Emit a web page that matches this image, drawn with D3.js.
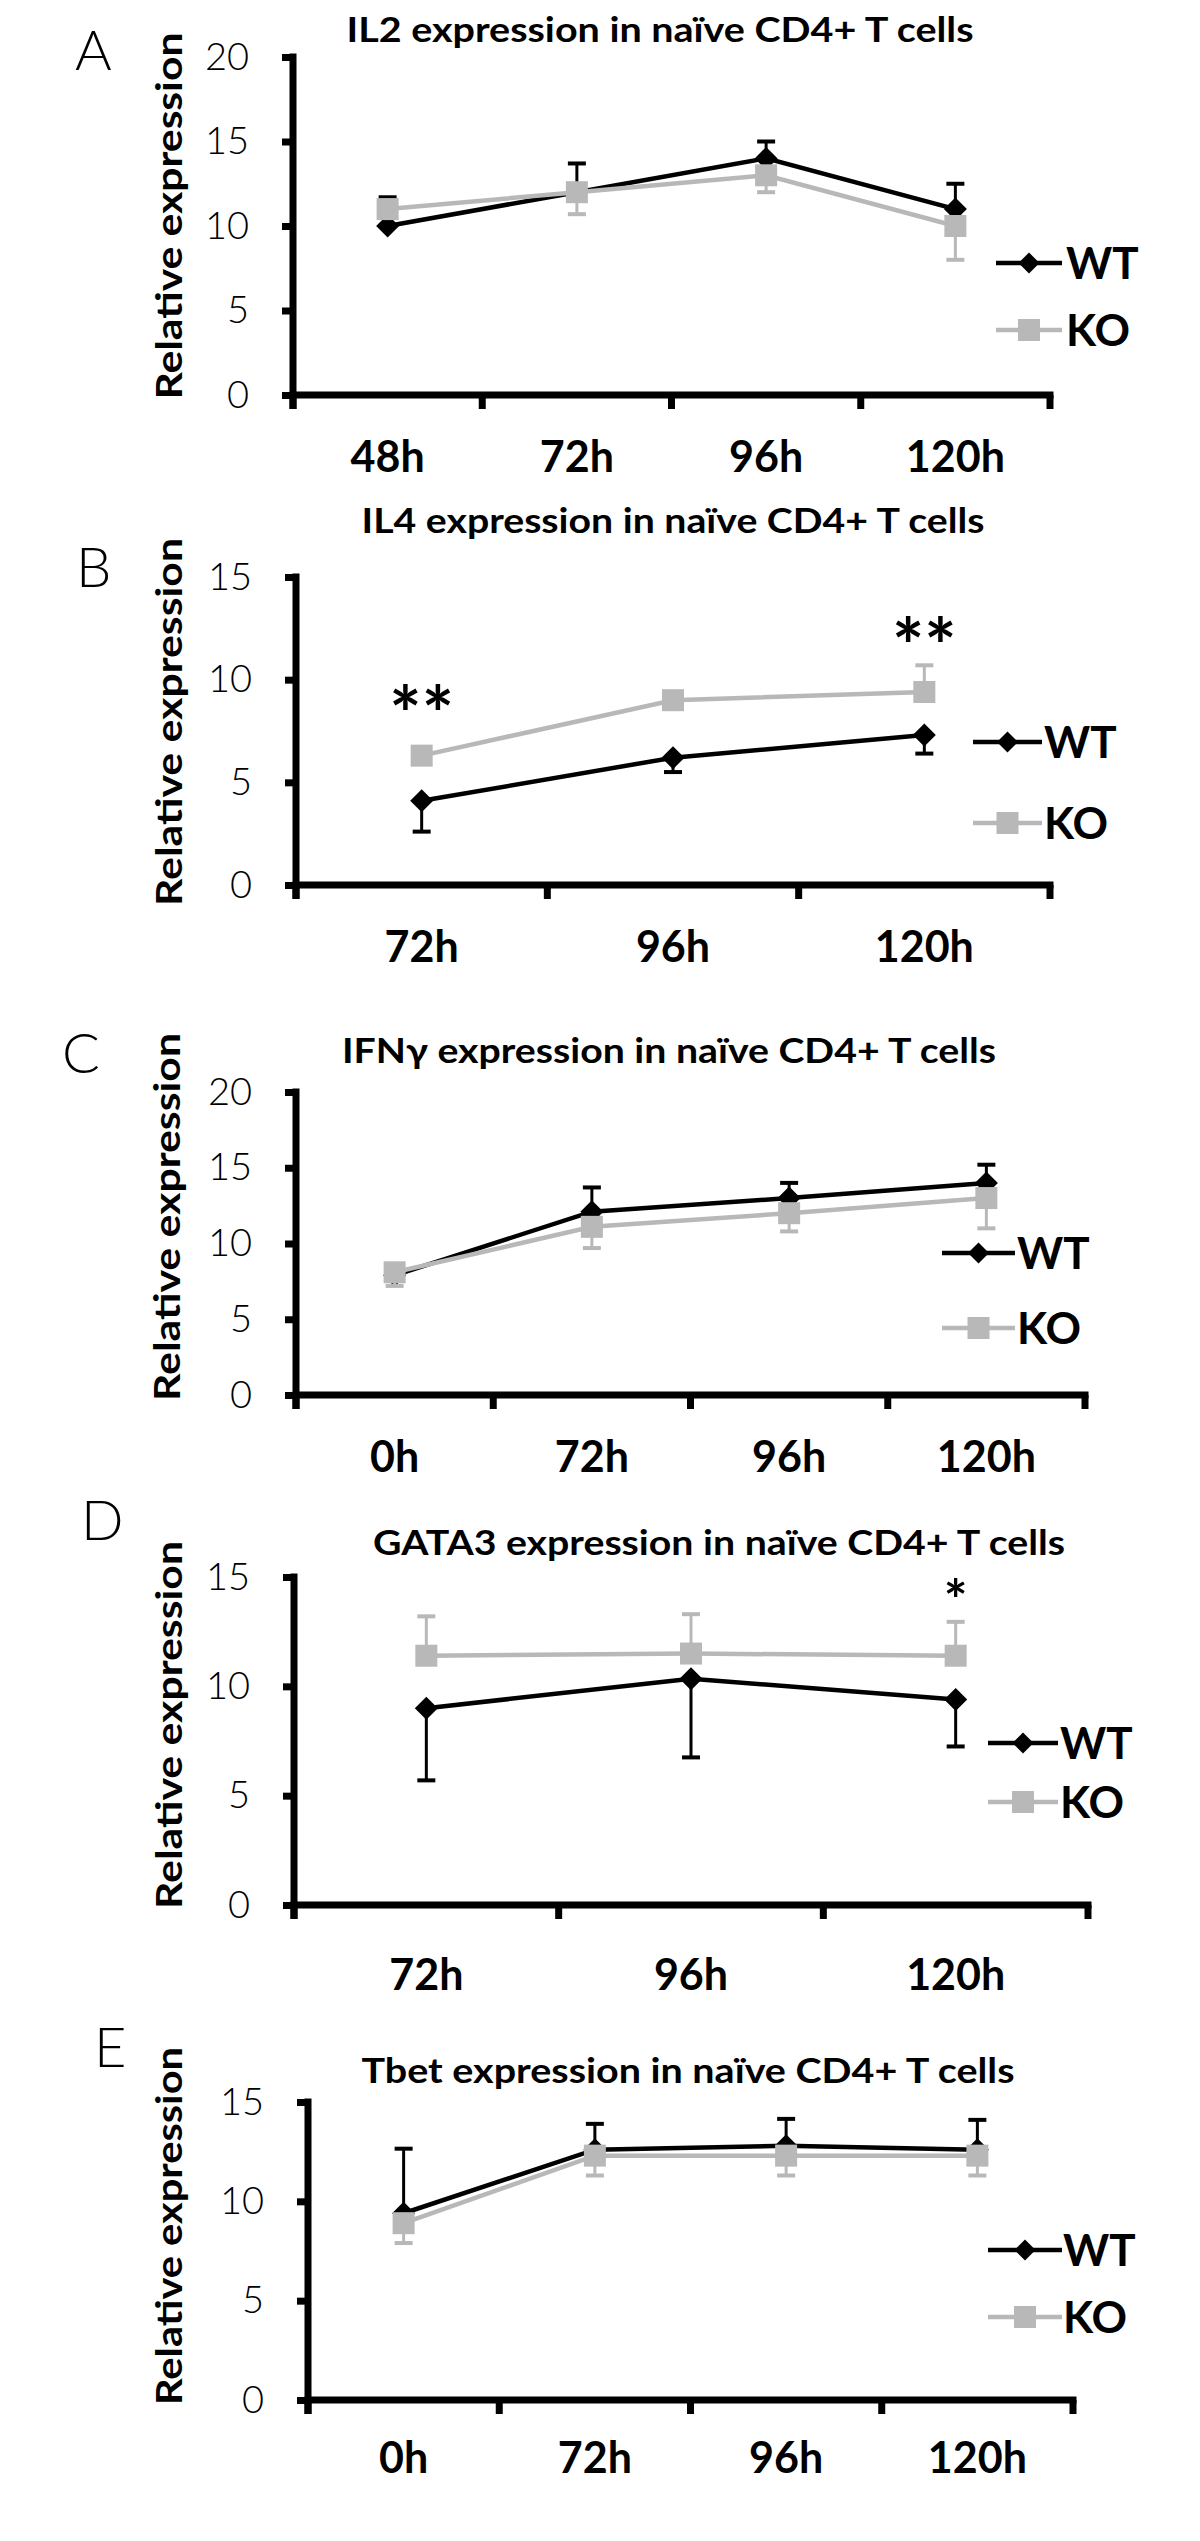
<!DOCTYPE html>
<html><head><meta charset="utf-8">
<script src="https://cdn.jsdelivr.net/npm/d3@7"></script>
<style>body{margin:0;background:#fff}svg{display:block}</style>
</head><body><div id="chart"></div>
<script>
// ---------------- DATA ----------------
const seriesNames = ["WT", "KO"];

const catsA = ["48h", "72h", "96h", "120h"];
const wtA = [10, 12, 14, 11];
const koA = [11, 12, 13, 10];
const wtErrA = [1.7, 1.7, 1.0, 1.5];
const koErrA = [0.5, 1.3, 1.0, 2.0];
const ticksA = [0, 5, 10, 15, 20];

const catsB = ["72h", "96h", "120h"];
const wtB = [4.1, 6.2, 7.3];
const koB = [6.3, 9.0, 9.4];
const wtErrB = [1.5, 0.7, 0.9];
const koErrB = [0.4, 0.4, 1.3];
const ticksB = [0, 5, 10, 15];
const sigB = ["**", "", "**"];

const catsC = ["0h", "72h", "96h", "120h"];
const wtC = [7.9, 12.1, 13.0, 14.0];
const koC = [8.1, 11.1, 12.0, 13.0];
const wtErrC = [0.3, 1.6, 1.0, 1.2];
const koErrC = [0.9, 1.4, 1.2, 2.0];
const ticksC = [0, 5, 10, 15, 20];

const catsD = ["72h", "96h", "120h"];
const wtD = [9.0, 10.35, 9.4];
const koD = [11.4, 11.5, 11.4];
const wtErrD = [3.3, 3.6, 2.15];
const koErrD = [1.8, 1.8, 1.55];
const ticksD = [0, 5, 10, 15];
const sigD = ["", "", "*"];

const catsE = ["0h", "72h", "96h", "120h"];
const wtE = [9.4, 12.6, 12.8, 12.6];
const koE = [8.9, 12.3, 12.3, 12.3];
const wtErrE = [3.25, 1.3, 1.35, 1.5];
const koErrE = [1.0, 1.0, 1.0, 1.0];
const ticksE = [0, 5, 10, 15];

const titles = [
  "IL2 expression in naïve CD4+ T cells",
  "IL4 expression in naïve CD4+ T cells",
  "IFNγ expression in naïve CD4+ T cells",
  "GATA3 expression in naïve CD4+ T cells",
  "Tbet expression in naïve CD4+ T cells"
];
const letters = ["A", "B", "C", "D", "E"];
const yLabel = "Relative expression";

// ---------------- LAYOUT ----------------
const layout = [
  {x0:293, x1:1050, y0:395, y1:57, title:{cx:660,y:42,len:627}, letter:{x:75,y:70}, ylab:{x:182,cy:216,len:367}, xlabY:472, sig:{pos:[], size:76}, leg:{x0:996,x1:1062,wt:263,ko:330,tx:1066}, wtDir:1, koDir:-1},
  {x0:296, x1:1050, y0:885, y1:577, title:{cx:673,y:533,len:623}, letter:{x:76,y:587}, ylab:{x:182,cy:722,len:368}, xlabY:962, sig:{pos:[9.1,0,12.4], size:76}, leg:{x0:973,x1:1042,wt:742,ko:823,tx:1044}, wtDir:-1, koDir:1},
  {x0:296, x1:1085, y0:1395, y1:1092, title:{cx:669,y:1063,len:654}, letter:{x:62,y:1073}, ylab:{x:180,cy:1217,len:368}, xlabY:1472, sig:{pos:[], size:76}, leg:{x0:942,x1:1015,wt:1253,ko:1328,tx:1017}, wtDir:1, koDir:-1},
  {x0:294, x1:1088, y0:1905, y1:1577, title:{cx:719,y:1555,len:692}, letter:{x:81,y:1540}, ylab:{x:182,cy:1725,len:368}, xlabY:1990, sig:{pos:[0,0,14.5], size:56}, leg:{x0:988,x1:1058,wt:1743,ko:1802,tx:1060}, wtDir:-1, koDir:1},
  {x0:308, x1:1073, y0:2400, y1:2102, title:{cx:688,y:2083,len:653}, letter:{x:94,y:2067}, ylab:{x:182,cy:2226,len:358}, xlabY:2473, sig:{pos:[], size:76}, leg:{x0:988,x1:1062,wt:2250,ko:2317,tx:1063}, wtDir:1, koDir:-1}
];

const panels = [
  {cats:catsA, wt:wtA, ko:koA, wtErr:wtErrA, koErr:koErrA, ticks:ticksA, sig:null},
  {cats:catsB, wt:wtB, ko:koB, wtErr:wtErrB, koErr:koErrB, ticks:ticksB, sig:sigB},
  {cats:catsC, wt:wtC, ko:koC, wtErr:wtErrC, koErr:koErrC, ticks:ticksC, sig:null},
  {cats:catsD, wt:wtD, ko:koD, wtErr:wtErrD, koErr:koErrD, ticks:ticksD, sig:sigD},
  {cats:catsE, wt:wtE, ko:koE, wtErr:wtErrE, koErr:koErrE, ticks:ticksE, sig:null}
];

const BLACK = "#000000", GRAY = "#b8b8b8";
const BOLD = "Lato, 'Open Sans', 'DejaVu Sans', sans-serif";

const svg = d3.select("#chart").append("svg").attr("width",1200).attr("height",2541)
  .style("background","#fff");

const diamond = r => `M0,${-r}L${r},0L0,${r}L${-r},0Z`;

panels.forEach((p, i) => {
  const L = layout[i];
  const g = svg.append("g");
  const yMax = p.ticks[p.ticks.length-1];
  const y = d3.scaleLinear().domain([0, yMax]).range([L.y0, L.y1]);
  const x = d3.scaleBand().domain(p.cats).range([L.x0, L.x1]);
  const cx = c => x(c) + x.bandwidth()/2;

  // title
  g.append("text").attr("x", L.title.cx).attr("y", L.title.y).attr("text-anchor","middle")
    .attr("font-family", BOLD).attr("font-weight", 700).attr("font-size", 35)
    .attr("textLength", L.title.len).attr("lengthAdjust","spacingAndGlyphs")
    .text(titles[i]);
  // letter
  g.append("text").attr("x", L.letter.x).attr("y", L.letter.y)
    .attr("font-family", BOLD).attr("font-weight", 300).attr("font-size", 56)
    .text(letters[i]);
  // y label
  g.append("text").attr("transform", `translate(${L.ylab.x},${L.ylab.cy}) rotate(-90)`)
    .attr("text-anchor","middle").attr("font-family", BOLD).attr("font-weight",700)
    .attr("font-size", 37).attr("textLength", L.ylab.len).attr("lengthAdjust","spacingAndGlyphs")
    .text(yLabel);

  // y axis (ticks + labels via d3.axisLeft)
  const ya = g.append("g").attr("transform", `translate(${L.x0},0)`)
    .call(d3.axisLeft(y).tickValues(p.ticks).tickSize(11).tickSizeOuter(0).tickPadding(33));
  ya.select(".domain").remove();
  ya.selectAll(".tick line").attr("stroke", BLACK).attr("stroke-width", 7);
  ya.selectAll(".tick text").attr("font-family", BOLD).attr("font-weight", 300)
    .attr("font-size", 38).attr("fill", BLACK);

  // axis lines
  g.append("line").attr("x1", L.x0).attr("x2", L.x0).attr("y1", L.y1 - 3.5).attr("y2", L.y0 + 14)
    .attr("stroke", BLACK).attr("stroke-width", 7);
  g.append("line").attr("x1", L.x0 - 3.5).attr("x2", L.x1 + 3.5).attr("y1", L.y0).attr("y2", L.y0)
    .attr("stroke", BLACK).attr("stroke-width", 7);
  // x ticks at band edges
  const edges = p.cats.map(c => x(c)).concat([L.x1]);
  g.selectAll(".xt").data(edges).enter().append("line")
    .attr("x1", d => d).attr("x2", d => d).attr("y1", L.y0).attr("y2", L.y0 + 14)
    .attr("stroke", BLACK).attr("stroke-width", 7);
  // x labels
  g.selectAll(".xl").data(p.cats).enter().append("text")
    .attr("x", d => cx(d)).attr("y", L.xlabY).attr("text-anchor","middle")
    .attr("font-family", BOLD).attr("font-weight", 700).attr("font-size", 43)
    .text(d => d);

  const line = d3.line().x((d, j) => cx(p.cats[j])).y(d => y(d));

  function drawSeries(vals, errs, dir, color, marker) {
    vals.forEach((v, j) => {
      const xe = cx(p.cats[j]);
      const ye = y(v + dir * errs[j]);
      g.append("line").attr("x1", xe).attr("x2", xe).attr("y1", y(v)).attr("y2", ye)
        .attr("stroke", color).attr("stroke-width", 3);
      g.append("line").attr("x1", xe - 9).attr("x2", xe + 9).attr("y1", ye).attr("y2", ye)
        .attr("stroke", color).attr("stroke-width", 4);
    });
    g.append("path").datum(vals).attr("d", line).attr("fill","none")
      .attr("stroke", color).attr("stroke-width", 4.5);
    vals.forEach((v, j) => {
      if (marker === "diamond") {
        g.append("path").attr("d", diamond(11.5))
          .attr("transform", `translate(${cx(p.cats[j])},${y(v)})`).attr("fill", color);
      } else {
        g.append("rect").attr("x", cx(p.cats[j]) - 11).attr("y", y(v) - 11)
          .attr("width", 22).attr("height", 22).attr("fill", color);
      }
    });
  }
  drawSeries(p.wt, p.wtErr, L.wtDir, BLACK, "diamond");
  drawSeries(p.ko, p.koErr, L.koDir, GRAY, "square");

  // significance marks (y value = glyph centre)
  if (p.sig) {
    p.sig.forEach((s, j) => {
      if (!s) return;
      g.append("text").attr("x", cx(p.cats[j])).attr("y", y(L.sig.pos[j]))
        .attr("text-anchor","middle")
        .attr("font-family", BOLD).attr("font-weight",700).attr("font-size", L.sig.size)
        .attr("dy", "0.58em")
        .text(s);
    });
  }

  // legend
  const lg = L.leg;
  [[seriesNames[0], lg.wt, BLACK, "diamond"], [seriesNames[1], lg.ko, GRAY, "square"]].forEach(([name, ly, color, m]) => {
    g.append("line").attr("x1", lg.x0).attr("x2", lg.x1).attr("y1", ly).attr("y2", ly)
      .attr("stroke", color).attr("stroke-width", 4.5);
    const mx = (lg.x0 + lg.x1) / 2;
    if (m === "diamond") g.append("path").attr("d", diamond(10.5)).attr("transform", `translate(${mx},${ly})`).attr("fill", color);
    else g.append("rect").attr("x", mx - 11).attr("y", ly - 11).attr("width", 22).attr("height", 22).attr("fill", color);
    g.append("text").attr("x", lg.tx).attr("y", ly + 16).attr("font-family", BOLD)
      .attr("font-weight", 700).attr("font-size", 44).text(name);
  });
});
</script></body></html>
